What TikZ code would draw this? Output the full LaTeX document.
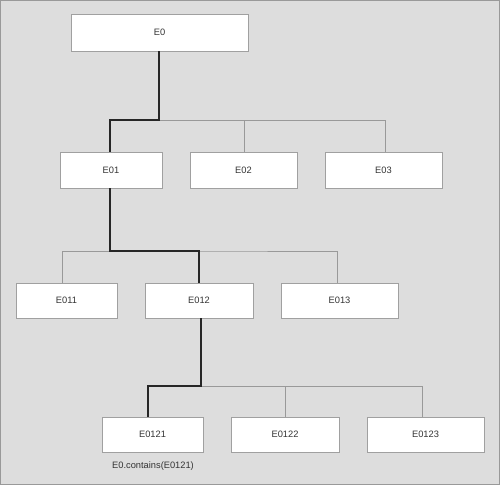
\documentclass[tikz,border=0pt]{standalone}
\usepackage{fontspec}
\setmainfont{Liberation Sans}
\begin{document}
\begin{tikzpicture}[x=1pt,y=-1pt,
  box/.style={draw=boxline,fill=white,line width=0.9pt,inner sep=0pt,font=\fontsize{9.3}{11}\selectfont,text=txt},
  thinline/.style={draw=conn,line width=0.9pt},
  thickline/.style={draw=black!85,line width=2.4pt,line join=miter}]
\definecolor{bg}{HTML}{DDDDDD}
\definecolor{frame}{HTML}{999999}
\definecolor{boxline}{HTML}{A0A0A0}
\definecolor{conn}{HTML}{999999}
\definecolor{txt}{HTML}{333333}
\useasboundingbox (0,0) rectangle (500,485);
\draw[draw=frame,fill=bg,line width=1pt] (0.5,0.5) rectangle (499.5,484.5);
% nodes
\node[box,minimum width=177pt,minimum height=37pt] (e0) at (159.5,32.5) {E0};
\node[box,minimum width=102pt,minimum height=36pt] (e01) at (111,170) {E01};
\node[box,minimum width=107pt,minimum height=36pt] (e02) at (243.5,170) {E02};
\node[box,minimum width=117pt,minimum height=36pt] (e03) at (383.5,170) {E03};
\node[box,minimum width=101pt,minimum height=35pt] (e011) at (66.5,300.5) {E011};
\node[box,minimum width=108pt,minimum height=35pt] (e012) at (199,300.5) {E012};
\node[box,minimum width=117pt,minimum height=35pt] (e013) at (339.5,300.5) {E013};
\node[box,minimum width=101pt,minimum height=35pt] (e0121) at (152.5,434.5) {E0121};
\node[box,minimum width=108pt,minimum height=35pt] (e0122) at (285,434.5) {E0122};
\node[box,minimum width=117pt,minimum height=35pt] (e0123) at (425.5,434.5) {E0123};
\node[font=\fontsize{9.3}{11}\selectfont,text=txt,inner sep=0pt] (lbl) at (153,466) {E0.contains(E0121)};
% bus coordinates
\coordinate (b1) at (0,120);
\coordinate (b2) at (0,251);
\coordinate (b3) at (0,386);
% level 1
\draw[thinline] ([xshift=-0.5pt]e0.south |- b1) -| ([xshift=1.5pt]e03.north);
\draw[thinline] ([xshift=0.5pt]e02.north) -- ([xshift=0.5pt]e02.north |- b1);
\draw[thickline] ([xshift=-0.5pt]e0.south) -- ([xshift=-0.5pt]e0.south |- b1) -| ([xshift=-1pt]e01.north);
% level 2
\draw[thinline] ([xshift=-4.5pt]e011.north) |- (b2 -| e012.north) -| ([xshift=-2.5pt]e013.north);
\draw[thickline] ([xshift=-1pt]e01.south) -- ([xshift=-1pt]e01.south |- b2) -| (e012.north);
% level 3
\draw[thinline] ([xshift=2pt]e012.south |- b3) -| ([xshift=-3.5pt]e0123.north);
\draw[thinline] (e0122.north) -- (e0122.north |- b3);
\draw[thickline] ([xshift=2pt]e012.south) -- ([xshift=2pt]e012.south |- b3) -| ([xshift=-4.5pt]e0121.north);
\end{tikzpicture}
\end{document}
